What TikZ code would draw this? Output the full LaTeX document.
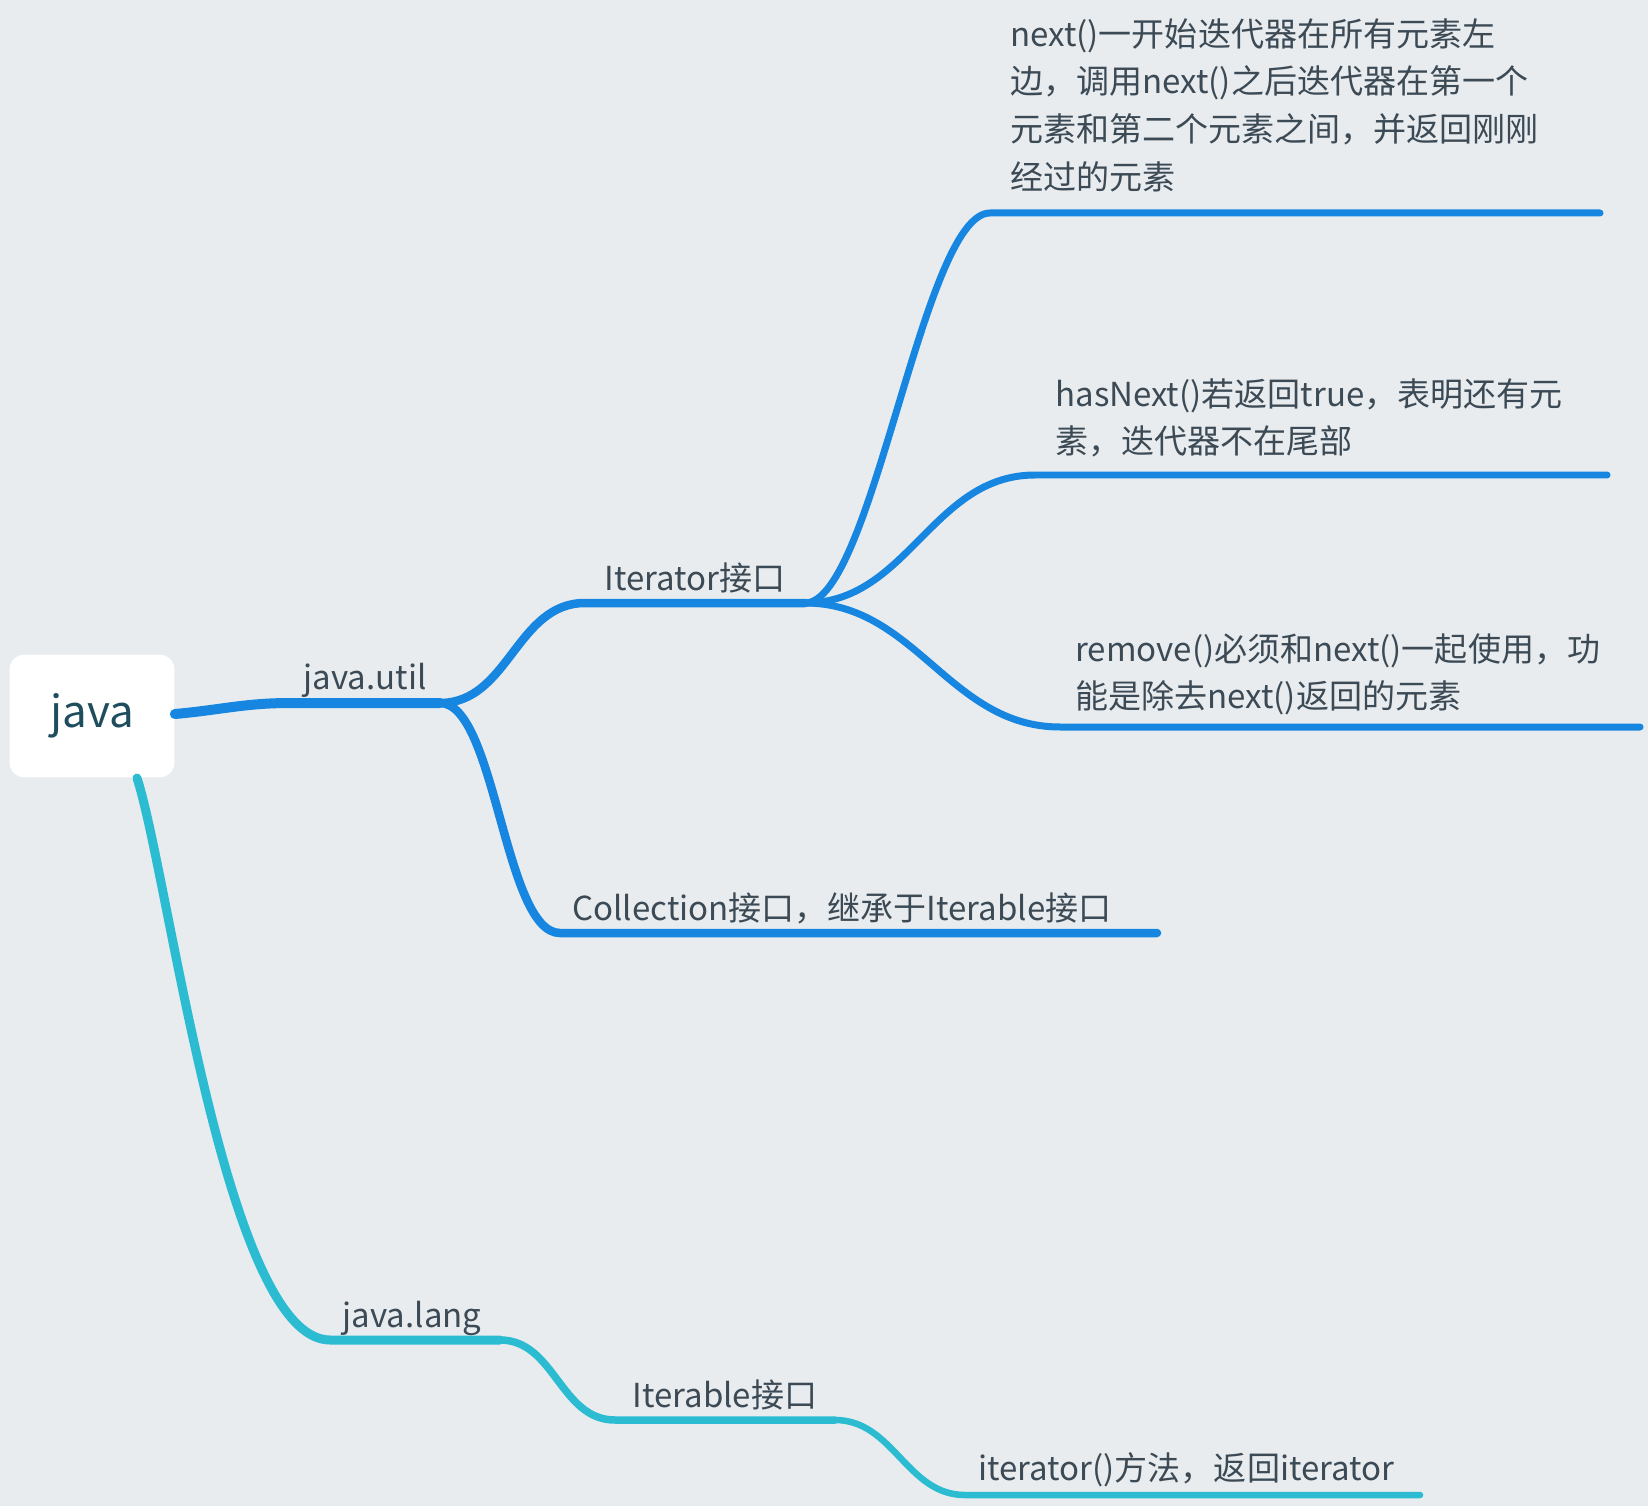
\documentclass[tikz,border=0pt]{standalone}
\usepackage{fontspec}
\setmainfont{Noto Sans CJK SC}
\usetikzlibrary{positioning}
\definecolor{bgc}{HTML}{E8ECEF}
\definecolor{blu}{HTML}{1786E0}
\definecolor{cya}{HTML}{2BBCD2}
\definecolor{txt}{HTML}{3C4A55}
\definecolor{roottxt}{HTML}{1E4D5E}
\tikzset{
  lbl/.style={text=txt, font=\fontsize{18.8}{27.2}\selectfont, inner sep=0pt},
  lbll/.style={lbl, anchor=north west, align=left},
  branch/.style={line cap=round, line width=#1},
}
\begin{document}
\begin{tikzpicture}[x=0.02cm, y=-0.02cm]
  % background
  \fill[bgc] (0,0) rectangle (1648,1506);
  \useasboundingbox (0,0) rectangle (1648,1506);

  % root
  \node[fill=white, rounded corners=0.3cm, minimum width=3.3cm, minimum height=2.46cm,
        text=roottxt, font=\fontsize{25}{30}\selectfont] (java) at (92,716) {java};

  % branch points
  \coordinate (utilA) at (290,703);
  \coordinate (utilB) at (440,703);
  \coordinate (itA) at (585,603);
  \coordinate (itB) at (805,603);
  \coordinate (nextA) at (990,213);
  \coordinate (nextB) at (1600,213);
  \coordinate (hasA) at (1035,475);
  \coordinate (hasB) at (1607,475);
  \coordinate (remA) at (1060,727);
  \coordinate (remB) at (1640,727);
  \coordinate (colA) at (560,933);
  \coordinate (colB) at (1157,933);
  \coordinate (langA) at (330,1340);
  \coordinate (langB) at (500,1340);
  \coordinate (iblA) at (615,1420);
  \coordinate (iblB) at (835,1420);
  \coordinate (itrA) at (965,1495);
  \coordinate (itrB) at (1420,1495);

  % java.util side
  \draw[blu, branch=0.2cm] (java.east) ++(0,-2) to[out=5,in=180] (utilA) -- (utilB);
  \draw[blu, branch=0.17cm] (utilB) to[out=0,in=180] (itA) -- (itB);
  \draw[blu, branch=0.17cm] (utilB) to[out=0,in=180,looseness=0.55] (colA) -- (colB);
  \draw[blu, branch=0.14cm] (itB) to[out=0,in=180,looseness=0.4] (nextA) -- (nextB);
  \draw[blu, branch=0.14cm] (itB) to[out=0,in=180] (hasA) -- (hasB);
  \draw[blu, branch=0.14cm] (itB) to[out=0,in=180] (remA) -- (remB);

  % java.lang side
  \draw[cya, branch=0.18cm] (137,778) to[out=-72,in=180,looseness=0.45] (langA) -- (langB);
  \draw[cya, branch=0.15cm] (langB) to[out=0,in=180] (iblA) -- (iblB);
  \draw[cya, branch=0.13cm] (iblB) to[out=0,in=180] (itrA) -- (itrB);

  % labels
  \node[lbl] (lutil) at (365,680) {java.util};
  \node[lbl] (lit) at (695,578) {Iterator接口};
  \node[lbll] (lnext) at (1010,18) {next()一开始迭代器在所有元素左\\边，调用next()之后迭代器在第一个\\元素和第二个元素之间，并返回刚刚\\经过的元素};
  \node[lbll] (lhas) at (1055,378) {hasNext()若返回true，表明还有元\\素，迭代器不在尾部};
  \node[lbll] (lrem) at (1075,633) {remove()必须和next()一起使用，功\\能是除去next()返回的元素};
  \node[lbl, anchor=west] (lcol) at (572,908) {Collection接口，继承于Iterable接口};
  \node[lbl] (llang) at (412,1318) {java.lang};
  \node[lbl] (libl) at (725,1395) {Iterable接口};
  \node[lbl, anchor=west] (litr) at (978,1470) {iterator()方法，返回iterator};
\end{tikzpicture}
\end{document}
